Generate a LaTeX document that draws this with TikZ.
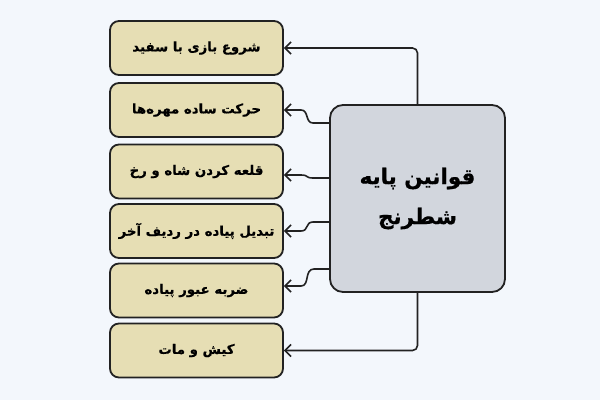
\documentclass[tikz,border=0pt]{standalone}
\usepackage{fontspec}
\usetikzlibrary{arrows.meta}
\TeXXeTstate=1
\newfontfamily\arabicfont[Script=Arabic,BoldFeatures={FakeBold=0.6}]{DejaVu Sans}
\definecolor{bgc}{HTML}{F3F7FC}
\definecolor{leafc}{HTML}{E6DEB4}
\definecolor{mainc}{HTML}{D2D6DD}
\definecolor{linec}{HTML}{222222}
\begin{document}
\begin{tikzpicture}[x=1pt,y=-1pt,
  leaf/.style={draw=linec,line width=1.8pt,fill=leafc,rounded corners=9pt,
    minimum width=173pt,minimum height=54pt,inner sep=0pt,
    font=\arabicfont\bfseries\fontsize{13.3}{16}\selectfont},
  mainbox/.style={draw=linec,line width=1.8pt,fill=mainc,rounded corners=13pt,
    minimum width=175pt,minimum height=187pt,inner sep=0pt,align=center,
    font=\arabicfont\bfseries\fontsize{21.5}{40}\selectfont},
  conn/.style={draw=linec,line width=1.6pt,rounded corners=5pt,
    -{Straight Barb[length=6pt,width=12pt,line width=1.6pt]}},
  sconn/.style={draw=linec,line width=1.6pt,
    -{Straight Barb[length=6pt,width=12pt,line width=1.6pt]}}]
\fill[bgc] (0,0) rectangle (600,400);
\path[use as bounding box] (0,0) rectangle (600,400);
\node[leaf] (b1) at (196.5,48) {\beginR شروع بازی با سفید\endR};
\node[leaf] (b2) at (196.5,110) {\beginR حرکت ساده مهره‌ها\endR};
\node[leaf] (b3) at (196.5,171.5) {\beginR قلعه کردن شاه و رخ\endR};
\node[leaf] (b4) at (196.5,231) {\beginR تبدیل پیاده در ردیف آخر\endR};
\node[leaf] (b5) at (196.5,290.5) {\beginR ضربه عبور پیاده\endR};
\node[leaf] (b6) at (196.5,350.5) {\beginR کیش و مات\endR};
\node[mainbox] (m) at (417.5,198.5) {\beginR قوانین پایه\endR\\\beginR شطرنج\endR};
\coordinate (s2) at (m.west |- 0,123);
\coordinate (s3) at (m.west |- 0,178);
\coordinate (s4) at (m.west |- 0,222);
\coordinate (s5) at (m.west |- 0,269);
\draw[conn] (m.north) |- (b1.east);
\draw[conn] (m.south) |- (b6.east);
\draw[sconn] (s2) -- (313,123) .. controls (305,123) and (309,110) .. (301,110) -- (b2.east);
\draw[sconn] (s3) -- (313,178) .. controls (305,178) and (309,175) .. (301,175) -- (b3.east |- 0,175);
\draw[sconn] (s4) -- (313,222) .. controls (305,222) and (309,231) .. (301,231) -- (b4.east);
\draw[sconn] (s5) -- (314,269) .. controls (304,269) and (310,286) .. (301,286) -- (b5.east |- 0,286);
\end{tikzpicture}
\end{document}
